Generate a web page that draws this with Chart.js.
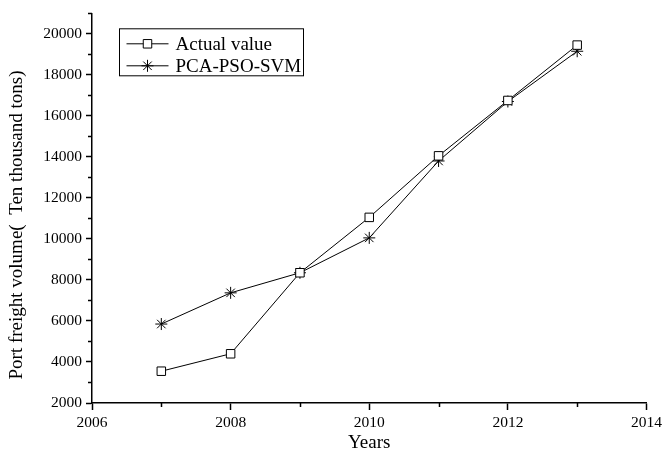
<!DOCTYPE html>
<html>
<head>
<meta charset="utf-8">
<script src="https://cdn.jsdelivr.net/npm/chart.js@4.4.1/dist/chart.umd.min.js"></script>
<style>
  html, body { margin: 0; padding: 0; background: #fff; }
  #wrap { width: 666px; height: 459px; }
</style>
</head>
<body>
<div id="wrap"><canvas id="c" width="666" height="459"></canvas></div>
<script>
// Port freight volume, actual vs. PCA-PSO-SVM forecast (ten thousand tons)
const years = [2007, 2008, 2009, 2010, 2011, 2012, 2013];
const actualValue = [3550, 4400, 8350, 11050, 14050, 16750, 19450];
const pcaPsoSvm = [5850, 7370, 8350, 10050, 13800, 16700, 19150];
const xMajorTicks = [2006, 2008, 2010, 2012, 2014];
const xMinorTicks = [2007, 2009, 2011, 2013];
const yMajorTicks = [2000, 4000, 6000, 8000, 10000, 12000, 14000, 16000, 18000, 20000];
const yMinorTicks = [3000, 5000, 7000, 9000, 11000, 13000, 15000, 17000, 19000, 21000];
const seriesNames = ['Actual value', 'PCA-PSO-SVM'];
const xTitle = 'Years';
const yTitle = 'Port freight volume(  Ten thousand tons)';

const FONT = "'Liberation Serif', 'Times New Roman', serif";

// short outward ticks between the labelled ones
const minorTicks = {
  id: 'minorTicks',
  afterDraw(chart) {
    const { ctx, scales: { x, y } } = chart;
    ctx.save();
    ctx.strokeStyle = '#000';
    ctx.lineWidth = 1.5;
    ctx.beginPath();
    xMinorTicks.forEach(v => {
      const px = Math.round(x.getPixelForValue(v)) + 0.5;
      ctx.moveTo(px, x.top);
      ctx.lineTo(px, x.top + 4);
    });
    yMinorTicks.forEach(v => {
      const py = Math.round(y.getPixelForValue(v)) + 0.5;
      ctx.moveTo(y.right, py);
      ctx.lineTo(y.right - 4, py);
    });
    ctx.stroke();
    ctx.restore();
  }
};

// rotated y-axis caption
const yCaption = {
  id: 'yCaption',
  afterDraw(chart) {
    const { ctx, chartArea } = chart;
    ctx.save();
    ctx.translate(17, chartArea.bottom - 178);
    ctx.rotate(-Math.PI / 2);
    ctx.font = `19px ${FONT}`;
    ctx.fillStyle = '#000';
    ctx.textAlign = 'center';
    ctx.textBaseline = 'middle';
    ctx.fillText(yTitle, 0, 0);
    ctx.restore();
  }
};

// boxed legend inside the plot, line-marker-line samples
const boxLegend = {
  id: 'boxLegend',
  afterDraw(chart) {
    const { ctx, chartArea } = chart;
    const bx = chartArea.left + 27.5, by = chartArea.top + 15.5;
    const bw = 184, bh = 47;
    ctx.save();
    ctx.strokeStyle = '#000';
    ctx.lineWidth = 1;
    ctx.strokeRect(bx, by, bw, bh);
    chart.data.datasets.forEach((ds, i) => {
      const cy = by + 15 + i * 22;
      ctx.strokeStyle = '#000';
      ctx.lineWidth = 1;
      ctx.beginPath();
      ctx.moveTo(bx + 7, cy);
      ctx.lineTo(bx + 49, cy);
      ctx.stroke();
      ctx.fillStyle = ds.pointBackgroundColor;
      ctx.strokeStyle = ds.pointBorderColor;
      Chart.helpers.drawPoint(ctx, {
        pointStyle: ds.pointStyle,
        radius: ds.pointRadius,
        borderWidth: 1
      }, bx + 28, cy);
      ctx.fillStyle = '#000';
      ctx.font = `19px ${FONT}`;
      ctx.textAlign = 'left';
      ctx.textBaseline = 'middle';
      ctx.fillText(ds.label, bx + 56, cy + 1);
    });
    ctx.restore();
  }
};

new Chart(document.getElementById('c'), {
  type: 'line',
  data: {
    datasets: [
      {
        label: seriesNames[0],
        data: years.map((yr, i) => ({ x: yr, y: actualValue[i] })),
        borderColor: '#000',
        borderWidth: 1,
        pointStyle: 'rect',
        pointRadius: 6,
        pointBackgroundColor: '#fff',
        pointBorderColor: '#000',
        pointBorderWidth: 1,
        tension: 0
      },
      {
        label: seriesNames[1],
        data: years.map((yr, i) => ({ x: yr, y: pcaPsoSvm[i] })),
        borderColor: '#000',
        borderWidth: 1,
        pointStyle: 'star',
        pointRadius: 6,
        pointBackgroundColor: '#000',
        pointBorderColor: '#000',
        pointBorderWidth: 1,
        tension: 0
      }
    ]
  },
  options: {
    responsive: false,
    animation: false,
    layout: { padding: { top: 12, right: 19, left: 0, bottom: 0 } },
    plugins: {
      legend: { display: false },
      tooltip: { enabled: false }
    },
    scales: {
      x: {
        type: 'linear',
        min: 2006,
        max: 2014,
        afterBuildTicks: s => { s.ticks = xMajorTicks.map(v => ({ value: v })); },
        afterFit: s => { s.height = 56; },
        border: { display: true, color: '#000', width: 1.5 },
        grid: { drawOnChartArea: false, drawTicks: true, tickLength: 7, tickColor: '#000', tickWidth: 1.5 },
        ticks: {
          color: '#000',
          padding: 4,
          maxRotation: 0,
          font: { family: FONT, size: 15.5 },
          callback: v => String(v)
        },
        title: {
          display: true,
          text: xTitle,
          color: '#000',
          padding: { top: 0, bottom: 5 },
          font: { family: FONT, size: 19 }
        }
      },
      y: {
        type: 'linear',
        min: 2000,
        max: 21000,
        afterBuildTicks: s => { s.ticks = yMajorTicks.map(v => ({ value: v })); },
        afterFit: s => { s.width = 92; },
        border: { display: true, color: '#000', width: 1.5 },
        grid: { drawOnChartArea: false, drawTicks: true, tickLength: 6, tickColor: '#000', tickWidth: 1.5 },
        ticks: {
          color: '#000',
          padding: 4,
          font: { family: FONT, size: 15.5 },
          callback: v => String(v)
        },
        title: { display: false }
      }
    }
  },
  plugins: [minorTicks, yCaption, boxLegend]
});
</script>
</body>
</html>
